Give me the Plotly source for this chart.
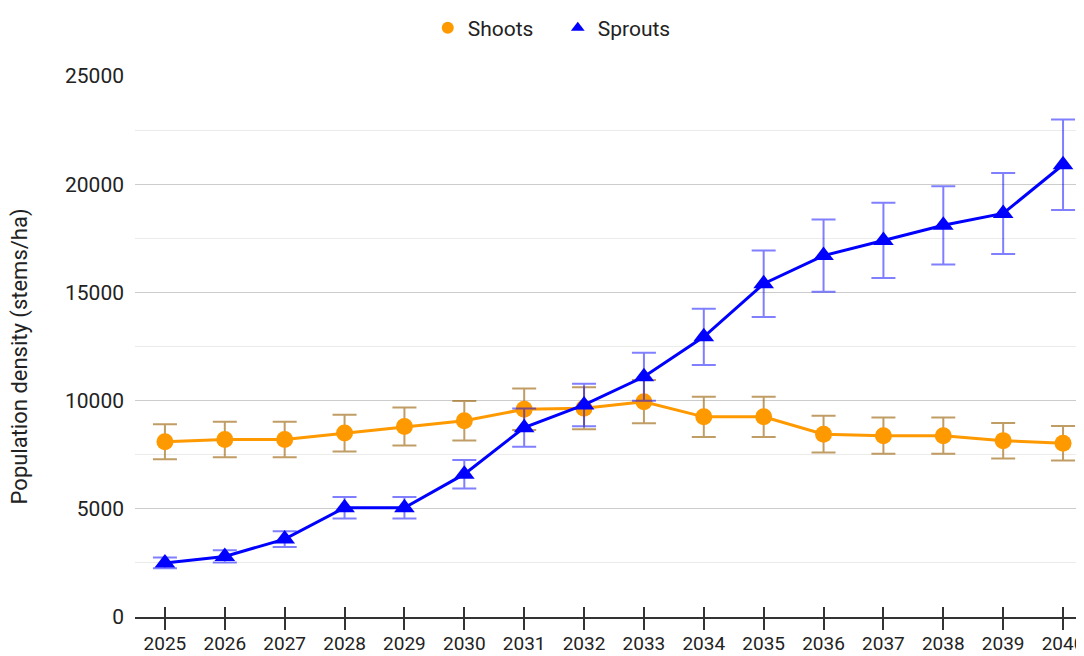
import plotly.graph_objects as go

years = list(range(2025, 2041))
shoots = [8100, 8200, 8200, 8500, 8800, 9070, 9600, 9650, 9950, 9250, 9250, 8450, 8380, 8380, 8150, 8030]
shoots_err = [810, 820, 820, 850, 880, 910, 960, 970, 1000, 930, 930, 850, 840, 840, 820, 800]
sprouts = [2500, 2800, 3600, 5050, 5050, 6600, 8750, 9800, 11100, 12950, 15400, 16700, 17400, 18100, 18650, 20900]
sprouts_err = [250, 280, 360, 500, 500, 660, 880, 980, 1110, 1300, 1540, 1670, 1740, 1810, 1870, 2090]
y_ticks = [0, 5000, 10000, 15000, 20000, 25000]

FONT = "Roboto, Arial, sans-serif"
ORANGE = "#FF9900"
BLUE = "#0000FF"
TXT = "#222222"

fig = go.Figure()
fig.add_trace(go.Scatter(
    x=years, y=shoots, mode="lines+markers", name="Shoots", showlegend=False,
    line=dict(color=ORANGE, width=3),
    marker=dict(symbol="circle", size=17, color=ORANGE),
    error_y=dict(type="data", array=shoots_err, visible=True,
                 color="rgba(160,105,20,0.65)", thickness=2, width=12),
))
fig.add_trace(go.Scatter(
    x=years, y=sprouts, mode="lines+markers", name="Sprouts", showlegend=False,
    line=dict(color=BLUE, width=3),
    marker=dict(symbol="triangle-up", size=18, color=BLUE),
    error_y=dict(type="data", array=sprouts_err, visible=True,
                 color="rgba(0,0,255,0.5)", thickness=2, width=12),
))
# legend-only entries (marker only)
fig.add_trace(go.Scatter(x=[None], y=[None], mode="markers", name="Shoots",
                         marker=dict(symbol="circle", size=20, color=ORANGE)))
fig.add_trace(go.Scatter(x=[None], y=[None], mode="markers", name="Sprouts",
                         marker=dict(symbol="triangle-up", size=20, color=BLUE)))
# helper trace for the second x axis (inside tick marks)
fig.add_trace(go.Scatter(x=[years[0]], y=[None], xaxis="x2", mode="markers",
                         showlegend=False, hoverinfo="skip"))

xr = [2024.5, 2040.35]
fig.update_layout(
    width=1076, height=648,
    margin=dict(l=127, r=0, t=68, b=39),
    paper_bgcolor="white", plot_bgcolor="white",
    font=dict(family=FONT, size=20, color=TXT),
    showlegend=True,
    legend=dict(orientation="h", x=0.3085, xanchor="left", y=0.969, yanchor="middle",
                yref="container", font=dict(size=21, color=TXT),
                itemsizing="constant", entrywidth=85, entrywidthmode="pixels"),
    xaxis=dict(range=xr, tickmode="array", tickvals=years, ticktext=[str(y) for y in years],
               showgrid=False, zeroline=False, showline=True, linecolor="#333333", linewidth=1.5,
               ticks="outside", ticklen=11, tickwidth=1.5, tickcolor="#333333", automargin=False,
               ticklabelstandoff=-3,
               ticklabeloverflow="allow", tickfont=dict(size=19, color=TXT)),
    xaxis2=dict(range=xr, overlaying="x", anchor="y", side="bottom", tickmode="array",
                tickvals=years, showticklabels=False, showgrid=False, zeroline=False,
                showline=False, ticks="inside", ticklen=10, tickwidth=1.5, tickcolor="#333333",
                automargin=False),
    yaxis=dict(range=[0, 25000], tickmode="array", tickvals=y_ticks,
               ticktext=[str(v) for v in y_ticks], automargin=False,
               showgrid=True, gridcolor="#cccccc", gridwidth=1,
               minor=dict(dtick=2500, showgrid=True, gridcolor="#ebebeb", gridwidth=1),
               zeroline=False, showline=False, ticks="", ticklabelstandoff=10,
               tickfont=dict(size=21, color=TXT)),
    annotations=[dict(text="Population density (stems/ha)", xref="paper", yref="paper",
                      x=-0.121, y=0.482, xanchor="center", yanchor="middle", textangle=-90,
                      showarrow=False, font=dict(size=22, color=TXT))],
)

fig.write_html("out.html")
